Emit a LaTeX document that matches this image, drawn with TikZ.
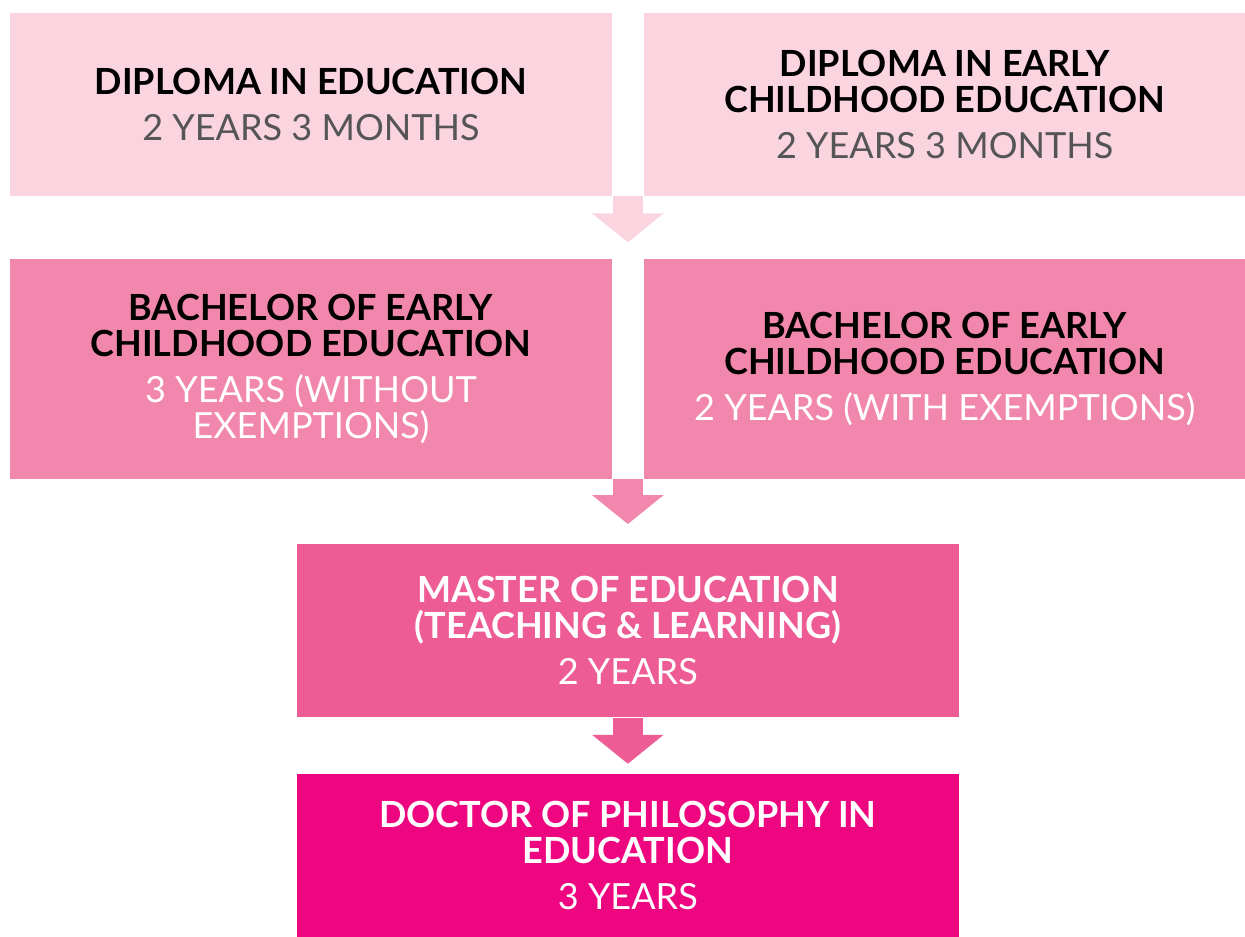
\documentclass[tikz,border=0pt]{standalone}
\usepackage{fontspec}
\setmainfont{Lato}
\definecolor{PalePink}{RGB}{250, 212, 223}
\definecolor{MidPink}{RGB}{242, 135, 173}
\definecolor{RosePink}{RGB}{238, 92, 149}
\definecolor{HotPink}{RGB}{237, 6, 128}
\definecolor{SoftGrey}{RGB}{85, 85, 85}
\usetikzlibrary{arrows.meta, positioning, calc}

\begin{document}
\begin{tikzpicture}[
            node distance=0.62cm,
            stage/.style={rectangle, inner sep=0pt, align=center, minimum width=12.04cm,
                          font=\fontsize{20.5}{20.5}\selectfont},
            wide/.style={stage, minimum width=13.24cm, text=white},
            flow/.style={-{Triangle[width=1.4cm, length=0.58cm]}, line width=0.6cm}
        ]
            \useasboundingbox (0,0) rectangle (24.9,-18.72);

            \node[stage, fill=PalePink, minimum height=3.66cm] (dipEd) at (6.22,-2.09)
                {\textbf{DIPLOMA IN EDUCATION}\\[0.2cm] \textcolor{SoftGrey}{2 YEARS 3 MONTHS}};
            \node[stage, fill=PalePink, minimum height=3.66cm, right=of dipEd] (dipEce)
                {\textbf{DIPLOMA IN EARLY}\\ \textbf{CHILDHOOD EDUCATION}\\[0.2cm] \textcolor{SoftGrey}{2 YEARS 3 MONTHS}};

            \node[stage, fill=MidPink, minimum height=4.4cm, below=1.24cm of dipEd] (bachFull)
                {\textbf{BACHELOR OF EARLY}\\ \textbf{CHILDHOOD EDUCATION}\\[0.2cm]
                 \textcolor{white}{3 YEARS (WITHOUT}\\ \textcolor{white}{EXEMPTIONS)}};
            \node[stage, fill=MidPink, minimum height=4.4cm, right=of bachFull] (bachExempt)
                {\textbf{BACHELOR OF EARLY}\\ \textbf{CHILDHOOD EDUCATION}\\[0.2cm]
                 \textcolor{white}{2 YEARS (WITH EXEMPTIONS)}};

            \node[wide, fill=RosePink, minimum height=3.46cm, anchor=north] (master)
                at ($(bachFull.south east)!0.5!(bachExempt.south west)+(0,-1.3)$)
                {\textbf{MASTER OF EDUCATION}\\ \textbf{(TEACHING \& LEARNING)}\\[0.2cm] 2 YEARS};
            \node[wide, fill=HotPink, minimum height=3.26cm, below=1.12cm of master] (doctor)
                {\textbf{DOCTOR OF PHILOSOPHY IN}\\ \textbf{EDUCATION}\\[0.2cm] 3 YEARS};

            \coordinate (gapTop) at ($(dipEd.south east)!0.5!(dipEce.south west)$);
            \coordinate (tipTop) at ($(gapTop)+(0,-0.92)$);
            \coordinate (gapMid) at ($(bachFull.south east)!0.5!(bachExempt.south west)$);
            \coordinate (tipMid) at ($(gapMid)+(0,-0.9)$);
            \coordinate (tipLow) at ($(master.south)+(0,-0.92)$);

            \draw[flow, PalePink] (gapTop) -- (tipTop);
            \draw[flow, MidPink] (gapMid) -- (tipMid);
            \draw[flow, RosePink] (master.south) -- (tipLow);
        \end{tikzpicture}
\end{document}
